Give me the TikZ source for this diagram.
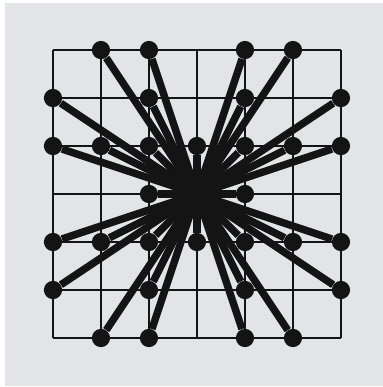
\documentclass[tikz,border=0pt]{standalone}
\usepackage{tikz}
\definecolor{ink}{HTML}{141414}
\definecolor{paper}{HTML}{E2E4E8}

\begin{document}
\begin{tikzpicture}[x=1cm,y=1cm,
  dot/.style={circle,fill=ink,inner sep=0pt,minimum size=3.8mm},
  spoke/.style={draw=ink,line width=1.55mm}]
\useasboundingbox (-4.104,-4.021) rectangle (3.875,4.042);
\fill[white] (-4.104,-4.021) rectangle (3.875,4.042);
\fill[paper] (-4.0,-4.0) rectangle (3.875,3.98);
\draw[ink,line width=0.8pt] (-3,-3) grid (3,3);
\coordinate (o) at (0,0);
% visible points of the first quadrant, turned four times
\foreach \r in {0,90,180,270} {
  \begin{scope}[rotate=\r]
    \foreach \a/\b [count=\i] in {1/0,1/1,1/2,2/1,1/3,3/1,2/3,3/2} {
      \node[dot] (p-\r-\i) at (\a,\b) {};
      \draw[spoke] (o) -- (p-\r-\i);
    }
  \end{scope}
}
\end{tikzpicture}
\end{document}
